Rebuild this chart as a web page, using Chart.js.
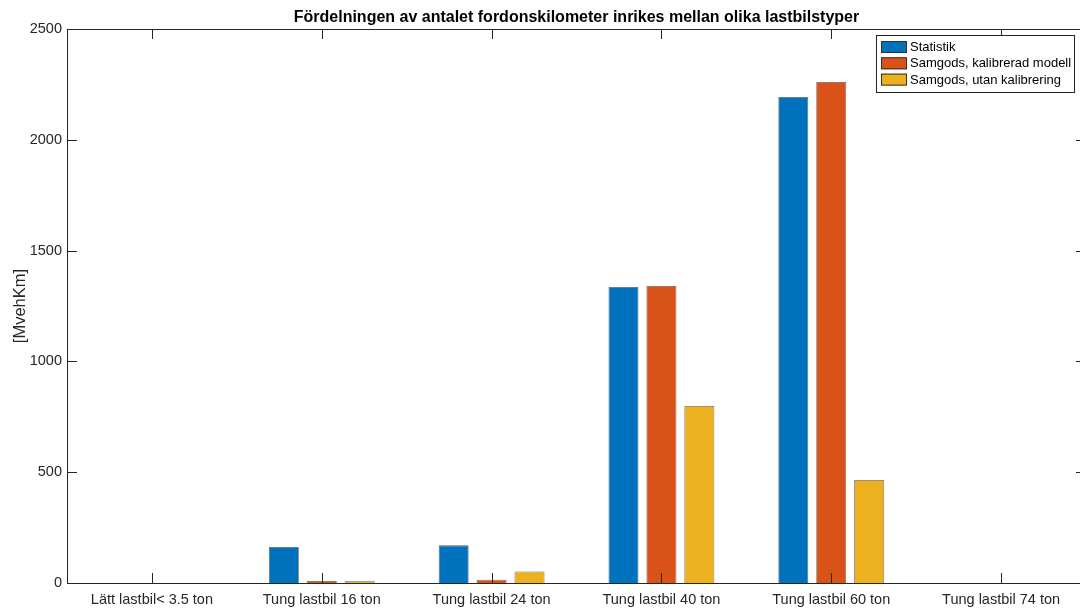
<!DOCTYPE html>
<html>
<head>
<meta charset="utf-8">
<script src="https://cdn.jsdelivr.net/npm/chart.js@4.4.1/dist/chart.umd.min.js"></script>
<style>
  html, body { margin: 0; padding: 0; background: #fff; overflow: hidden; }
  #wrap { width: 1090px; height: 610px; }
</style>
</head>
<body>
<div id="wrap"><canvas id="lastbil-chart"></canvas></div>
<script>
var categories = ['Lätt lastbil< 3.5 ton', 'Tung lastbil 16 ton', 'Tung lastbil 24 ton',
                  'Tung lastbil 40 ton', 'Tung lastbil 60 ton', 'Tung lastbil 74 ton']
var statistik = [0, 163, 170, 1336, 2193, 0]
var kalibrerad = [0, 9, 15, 1340, 2261, 0]
var utan_kalibrering = [0, 8, 52, 799, 465, 0]
var y_ticks = [0, 500, 1000, 1500, 2000, 2500]

var axis_color = '#262626'
var font_family = '"Liberation Sans", Arial, Helvetica, sans-serif'

// MATLAB style frame: inward ticks on all four sides plus the box
var matlab_frame = {
  id: 'matlab_frame',
  afterDatasetsDraw(chart) {
    var c = chart.ctx
    var a = chart.chartArea
    var x = chart.scales.x
    var y = chart.scales.y
    c.save()
    c.strokeStyle = axis_color
    c.lineWidth = 1
    c.beginPath()
    y_ticks.forEach(function(v) {
      var py = Math.round(y.getPixelForValue(v)) + 0.5
      c.moveTo(a.left, py); c.lineTo(a.left + 10, py)
      c.moveTo(a.right, py); c.lineTo(a.right - 10, py)
    })
    categories.forEach(function(cat, i) {
      var px = Math.round(x.getPixelForValue(i)) + 0.5
      c.moveTo(px, a.bottom); c.lineTo(px, a.bottom - 10)
      c.moveTo(px, a.top); c.lineTo(px, a.top + 10)
    })
    c.stroke()
    c.strokeRect(Math.round(a.left) + 0.5, Math.round(a.top) + 0.5,
                 Math.round(a.right - a.left), Math.round(a.bottom - a.top))
    c.restore()
  },
  afterDraw(chart) {
    // boxed legend in the top right corner
    var c = chart.ctx
    var bx = 876, by = 35, bw = 198, bh = 57
    c.save()
    c.fillStyle = '#fff'
    c.fillRect(bx, by, bw, bh)
    c.strokeStyle = axis_color
    c.lineWidth = 1
    c.strokeRect(bx + 0.5, by + 0.5, bw, bh)
    c.font = '13px ' + font_family
    c.textBaseline = 'middle'
    chart.data.datasets.forEach(function(ds, i) {
      var ry = by + 6 + i * 16.3
      c.fillStyle = ds.backgroundColor
      c.fillRect(bx + 5, ry, 26, 12)
      c.strokeStyle = '#333'
      c.strokeRect(bx + 5.5, ry + 0.5, 25, 11)
      c.fillStyle = '#000'
      c.fillText(ds.label, bx + 34, ry + 6.5)
    })
    c.restore()
  }
}

var ctx = document.getElementById('lastbil-chart').getContext('2d')
var chart = new Chart(ctx, {
  type: 'bar',
  data: {
    labels: categories,
    datasets: [
      { label: 'Statistik', data: statistik, backgroundColor: '#0072BD' },
      { label: 'Samgods, kalibrerad modell', data: kalibrerad, backgroundColor: '#D95319' },
      { label: 'Samgods, utan kalibrering', data: utan_kalibrering, backgroundColor: '#EDB120' }
    ]
  },
  options: {
    responsive: true,
    maintainAspectRatio: false,
    animation: false,
    layout: { padding: { right: 4 } },
    datasets: {
      bar: {
        categoryPercentage: 0.67,
        barPercentage: 0.79,
        borderWidth: 0.8,
        borderColor: 'rgba(40,40,40,0.75)'
      }
    },
    scales: {
      x: {
        grid: { display: false, drawTicks: false },
        border: { display: true, color: axis_color, width: 1 },
        ticks: {
          color: axis_color,
          padding: 8,
          maxRotation: 0,
          minRotation: 0,
          autoSkip: false,
          font: { family: font_family, size: 14.5 }
        },
        afterFit: function(scale) { scale.height = 27 }
      },
      y: {
        min: 0,
        max: 2500,
        grid: { display: false, drawTicks: false },
        border: { display: true, color: axis_color, width: 1 },
        ticks: {
          stepSize: 500,
          padding: 5,
          color: axis_color,
          font: { family: font_family, size: 14.5 },
          callback: function(value) { return String(value) }
        },
        title: {
          display: true,
          text: '[MvehKm]',
          color: axis_color,
          padding: { top: 11, bottom: 0 },
          font: { family: font_family, size: 16.5 }
        },
        afterFit: function(scale) { scale.width = 67 }
      }
    },
    plugins: {
      legend: { display: false },
      tooltip: { enabled: false },
      title: {
        display: true,
        fullSize: false,
        text: 'Fördelningen av antalet fordonskilometer inrikes mellan olika lastbilstyper',
        color: '#000',
        padding: { top: 8, bottom: 1.8 },
        font: { family: font_family, size: 16, weight: 'bold' }
      }
    }
  },
  plugins: [matlab_frame]
})
</script>
</body>
</html>
